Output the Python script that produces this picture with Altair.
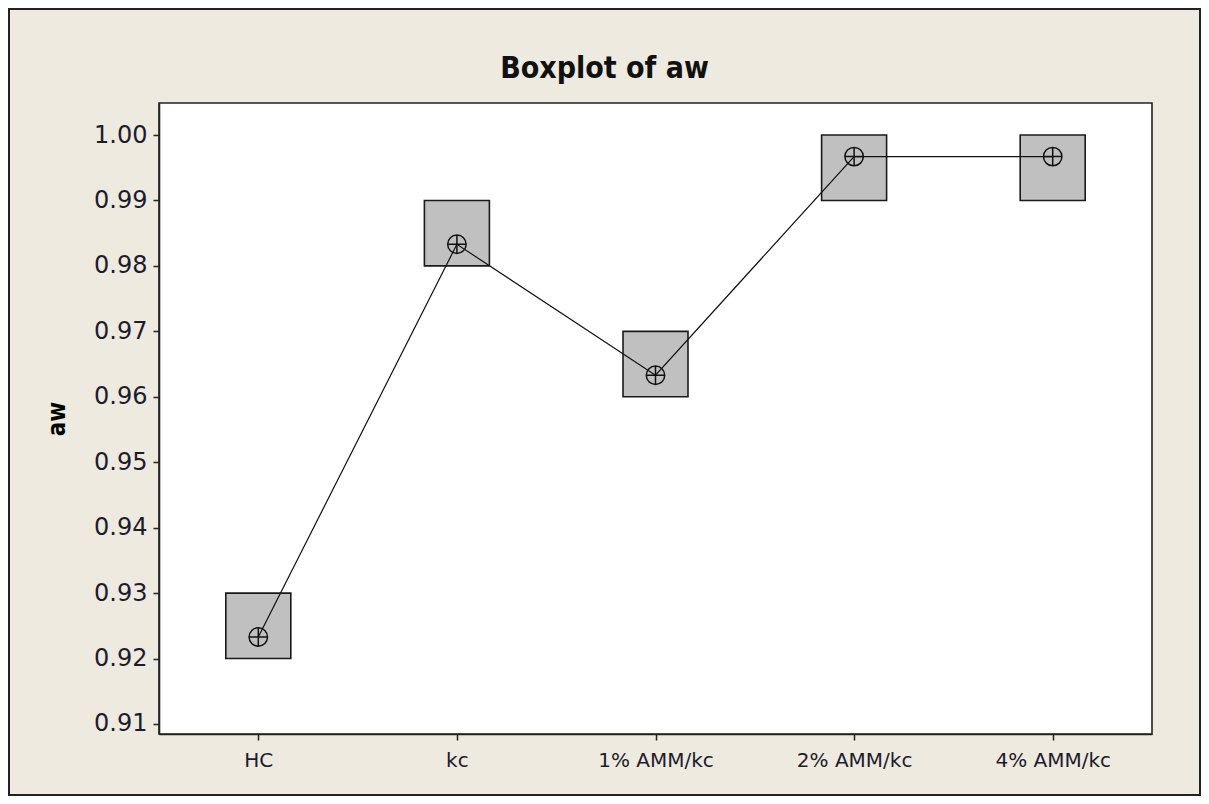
import altair as alt
import pandas as pd

groups = ["HC", "kc", "1% AMM/kc", "2% AMM/kc", "4% AMM/kc"]
q1 = [0.92, 0.98, 0.96, 0.99, 0.99]
q3 = [0.93, 0.99, 0.97, 1.00, 1.00]
means = [0.9233, 0.9833, 0.9633, 0.9967, 0.9967]
y_ticks = [0.91, 0.92, 0.93, 0.94, 0.95, 0.96, 0.97, 0.98, 0.99, 1.00]
title_text = ["Boxplot of aw"]

df = pd.DataFrame({"group": groups, "q1": q1, "q3": q3, "mean": means})

W, H = 993, 631
PAD_L, PAD_T, PAD_R, PAD_B = 151, 95, 49, 62

LABEL_FONT = "DejaVu Sans"
BOLD_FONT = "Liberation Sans Narrow, DejaVu Sans Condensed, Liberation Sans"

x_enc = alt.X(
    "group:N",
    sort=groups,
    scale=alt.Scale(type="point", padding=0.5),
    axis=alt.Axis(title=None, labelAngle=0, labelPadding=10, tickSize=6,
                  labelFontSize=20),
)
yscale = alt.Scale(domain=[0.90847, 1.00489], nice=False, zero=False)

base = alt.Chart(df)

boxes = base.mark_bar(size=65, fill="#C0C0C0", stroke="#1a1a1a",
                      strokeWidth=1.6).encode(
    x=x_enc,
    y=alt.Y("q1:Q", scale=yscale,
            axis=alt.Axis(values=y_ticks, format=".2f", title="aw",
                          titleFont=BOLD_FONT, titleFontSize=24,
                          titleFontWeight="bold", titleX=-102, titleY=H / 2,
                          titleBaseline="middle", titleAlign="center",
                          tickSize=6, labelPadding=6, labelFontSize=24)),
    y2="q3:Q",
)

line = base.mark_line(color="#111111", strokeWidth=1.2).encode(
    x=x_enc, y=alt.Y("mean:Q", scale=yscale)
)

circles = base.mark_point(shape="circle", size=340, filled=False,
                          stroke="#111111", strokeWidth=1.5,
                          opacity=1).encode(
    x=x_enc, y=alt.Y("mean:Q", scale=yscale)
)

crosses = base.mark_point(shape="M-1,0L1,0M0,-1L0,1", size=340, filled=False,
                          stroke="#111111", strokeWidth=1.5,
                          opacity=1).encode(
    x=x_enc, y=alt.Y("mean:Q", scale=yscale)
)

frame = alt.Chart(pd.DataFrame({"a": [0]})).mark_rect(
    fill="transparent", stroke="#222222", strokeWidth=2, clip=False
).encode(
    x=alt.value(-PAD_L + 1), x2=alt.value(W + PAD_R - 1),
    y=alt.value(-PAD_T + 1), y2=alt.value(H + PAD_B - 1),
)

title = alt.Chart(pd.DataFrame({"t": title_text})).mark_text(
    font=BOLD_FONT, fontSize=30, fontWeight="bold", color="#111111",
    align="center", baseline="middle", clip=False
).encode(
    text="t:N", x=alt.value(445.5), y=alt.value(-34)
)

chart = alt.layer(boxes, line, circles, crosses, frame, title).properties(
    width=W,
    height=H,
    autosize=alt.AutoSizeParams(type="none"),
    padding={"left": PAD_L, "top": PAD_T, "right": PAD_R, "bottom": PAD_B},
    background="#EEEAE0",
).configure_view(
    fill="white", stroke="#222222", strokeWidth=1.6
).configure_axis(
    domainColor="#222222", domainWidth=1.6, tickColor="#222222",
    tickWidth=1.5, labelFont=LABEL_FONT, labelColor="#1c1c2c",
    grid=False,
)

chart.save("out.html", embed_options={"renderer": "svg", "actions": False})
